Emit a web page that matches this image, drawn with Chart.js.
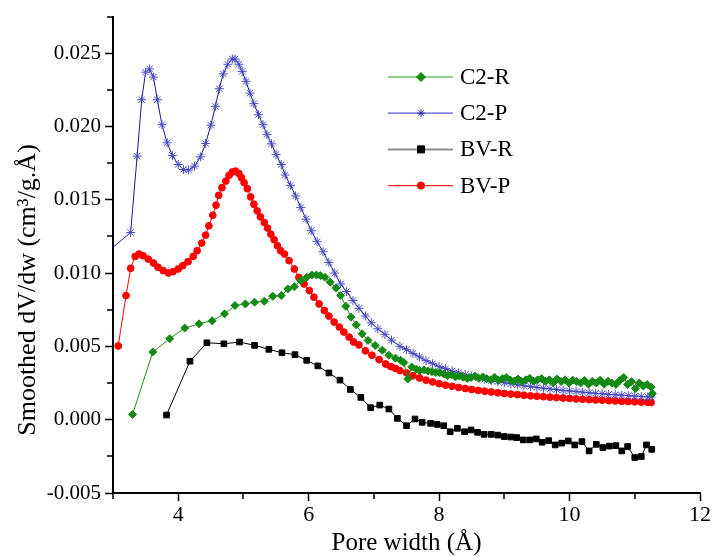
<!DOCTYPE html>
<html lang="en">
<head>
<meta charset="UTF-8">
<title>Smoothed dV/dw vs pore width</title>
<script src="https://cdn.jsdelivr.net/npm/chart.js"></script>
<style>
    body { margin: 0; background: #fff; }
    #psd { display: block; }
</style>
</head>
<body>
<canvas id="psd" width="712" height="556"></canvas>
<script>
    // pore width (Å) and dV/dw values
    const c2rX = [3.30, 3.61, 3.87, 4.10, 4.32, 4.52, 4.71, 4.87, 5.03, 5.17, 5.32, 5.45, 5.58, 5.68, 5.78, 5.88, 5.97, 6.05, 6.12, 6.18,
                  6.25, 6.33, 6.42, 6.49, 6.57, 6.65, 6.73, 6.82, 6.91, 7.02, 7.13, 7.23, 7.33, 7.41, 7.46, 7.52, 7.58, 7.65, 7.70, 7.77,
                  7.83, 7.89, 7.95, 8.01, 8.07, 8.13, 8.19, 8.25, 8.31, 8.37, 8.43, 8.49, 8.55, 8.61, 8.67, 8.73, 8.79, 8.85, 8.91, 8.97,
                  9.03, 9.09, 9.15, 9.21, 9.27, 9.33, 9.39, 9.45, 9.51, 9.57, 9.63, 9.69, 9.75, 9.81, 9.87, 9.93, 9.99, 10.05, 10.11, 10.17,
                  10.23, 10.29, 10.35, 10.41, 10.47, 10.53, 10.59, 10.65, 10.71, 10.77, 10.83, 10.89, 10.95, 11.01, 11.07, 11.13, 11.19, 11.25, 11.27];
    const c2rY = [0.00036, 0.00462, 0.00553, 0.00625, 0.00654, 0.00675, 0.00722, 0.00779, 0.00790, 0.00802, 0.00808, 0.00842, 0.00847, 0.00892, 0.00908, 0.00949, 0.00971, 0.00987, 0.00987, 0.00983,
                  0.00971, 0.00938, 0.00899, 0.00847, 0.00774, 0.00700, 0.00647, 0.00586, 0.00541, 0.00507, 0.00474, 0.00440, 0.00420, 0.00405, 0.00390, 0.00278, 0.00360, 0.00345, 0.00335, 0.00340,
                  0.00332, 0.00328, 0.00322, 0.00321, 0.00312, 0.00300, 0.00308, 0.00292, 0.00298, 0.00290, 0.00281, 0.00288, 0.00298, 0.00282, 0.00292, 0.00280, 0.00272, 0.00290, 0.00270, 0.00280,
                  0.00288, 0.00272, 0.00262, 0.00278, 0.00260, 0.00272, 0.00282, 0.00262, 0.00272, 0.00280, 0.00262, 0.00272, 0.00252, 0.00278, 0.00260, 0.00272, 0.00250, 0.00270, 0.00260, 0.00250,
                  0.00268, 0.00242, 0.00262, 0.00250, 0.00270, 0.00242, 0.00262, 0.00250, 0.00240, 0.00268, 0.00288, 0.00240, 0.00260, 0.00213, 0.00250, 0.00230, 0.00240, 0.00222, 0.00178];

    const c2pX = [2.93, 3.27, 3.37, 3.44, 3.50, 3.56, 3.62, 3.68, 3.75, 3.83, 3.91, 4.00, 4.08, 4.16, 4.25, 4.34, 4.42, 4.50, 4.57, 4.63,
                  4.69, 4.76, 4.83, 4.87, 4.93, 4.98, 5.04, 5.10, 5.16, 5.23, 5.30, 5.36, 5.43, 5.50, 5.58, 5.64, 5.72, 5.80, 5.88, 5.96,
                  6.04, 6.13, 6.22, 6.31, 6.40, 6.49, 6.58, 6.68, 6.77, 6.87, 6.96, 7.06, 7.17, 7.27, 7.40, 7.50, 7.60, 7.70, 7.80, 7.90,
                  8.00, 8.10, 8.20, 8.30, 8.40, 8.50, 8.60, 8.70, 8.80, 8.90, 9.00, 9.10, 9.20, 9.30, 9.40, 9.50, 9.60, 9.70, 9.80, 9.90,
                  10.00, 10.10, 10.20, 10.30, 10.40, 10.50, 10.60, 10.70, 10.80, 10.90, 11.00, 11.10, 11.20, 11.25];
    const c2pY = [0.01150, 0.01277, 0.01798, 0.02183, 0.02371, 0.02393, 0.02337, 0.02183, 0.02013, 0.01889, 0.01802, 0.01741, 0.01707, 0.01703, 0.01730, 0.01793, 0.01884, 0.02009, 0.02138, 0.02258,
                  0.02359, 0.02425, 0.02461, 0.02460, 0.02425, 0.02376, 0.02308, 0.02228, 0.02156, 0.02081, 0.02013, 0.01945, 0.01882, 0.01809, 0.01741, 0.01669, 0.01599, 0.01527, 0.01447, 0.01368,
                  0.01289, 0.01214, 0.01146, 0.01073, 0.01000, 0.00926, 0.00874, 0.00813, 0.00760, 0.00707, 0.00661, 0.00620, 0.00582, 0.00543, 0.00500, 0.00478, 0.00452, 0.00428, 0.00403, 0.00382,
                  0.00362, 0.00348, 0.00332, 0.00320, 0.00308, 0.00298, 0.00286, 0.00276, 0.00267, 0.00260, 0.00252, 0.00245, 0.00238, 0.00232, 0.00226, 0.00220, 0.00215, 0.00210, 0.00205, 0.00200,
                  0.00196, 0.00192, 0.00188, 0.00184, 0.00180, 0.00177, 0.00173, 0.00170, 0.00167, 0.00164, 0.00161, 0.00158, 0.00156, 0.00155];

    const bvrX = [3.82, 4.18, 4.44, 4.70, 4.94, 5.17, 5.39, 5.59, 5.79, 5.97, 6.14, 6.31, 6.48, 6.64, 6.80, 6.95, 7.09, 7.23, 7.36, 7.50,
                  7.63, 7.74, 7.87, 7.97, 8.07, 8.17, 8.28, 8.39, 8.49, 8.59, 8.69, 8.80, 8.90, 9.00, 9.10, 9.19, 9.29, 9.39, 9.49, 9.58,
                  9.68, 9.78, 9.88, 9.98, 10.08, 10.19, 10.30, 10.41, 10.51, 10.61, 10.71, 10.80, 10.89, 11.00, 11.10, 11.18, 11.26];
    const bvrY = [0.00032, 0.00399, 0.00525, 0.00518, 0.00530, 0.00507, 0.00480, 0.00457, 0.00444, 0.00405, 0.00367, 0.00319, 0.00270, 0.00206, 0.00152, 0.00082, 0.00100, 0.00073, 0.00009, -0.00041,
                  0.00005, -0.00018, -0.00025, -0.00032, -0.00041, -0.00082, -0.00059, -0.00082, -0.00070, -0.00086, -0.00100, -0.00100, -0.00105, -0.00115, -0.00118, -0.00122, -0.00138, -0.00138, -0.00131, -0.00154,
                  -0.00143, -0.00172, -0.00160, -0.00145, -0.00172, -0.00149, -0.00213, -0.00168, -0.00190, -0.00180, -0.00177, -0.00213, -0.00183, -0.00258, -0.00251, -0.00172, -0.00202];

    const bvpX = [3.08, 3.20, 3.27, 3.34, 3.40, 3.46, 3.54, 3.62, 3.69, 3.77, 3.85, 3.92, 4.00, 4.07, 4.15, 4.23, 4.29, 4.36, 4.42, 4.47,
                  4.53, 4.58, 4.62, 4.67, 4.73, 4.78, 4.83, 4.88, 4.93, 4.97, 5.01, 5.06, 5.11, 5.16, 5.21, 5.26, 5.32, 5.37, 5.42, 5.47,
                  5.52, 5.57, 5.63, 5.70, 5.78, 5.85, 5.93, 6.01, 6.08, 6.16, 6.24, 6.31, 6.39, 6.47, 6.54, 6.62, 6.69, 6.77, 6.87, 6.97,
                  7.08, 7.18, 7.26, 7.33, 7.40, 7.50, 7.60, 7.70, 7.80, 7.90, 8.00, 8.10, 8.20, 8.30, 8.40, 8.50, 8.60, 8.70, 8.80, 8.90,
                  9.00, 9.10, 9.20, 9.30, 9.40, 9.50, 9.60, 9.70, 9.80, 9.90, 10.00, 10.10, 10.20, 10.30, 10.40, 10.50, 10.60, 10.70, 10.80, 10.90,
                  11.00, 11.10, 11.20, 11.25];
    const bvpY = [0.00503, 0.00847, 0.01033, 0.01114, 0.01130, 0.01119, 0.01096, 0.01069, 0.01040, 0.01017, 0.01001, 0.01010, 0.01028, 0.01051, 0.01078, 0.01114, 0.01153, 0.01205, 0.01259, 0.01323,
                  0.01395, 0.01463, 0.01531, 0.01583, 0.01628, 0.01667, 0.01690, 0.01696, 0.01680, 0.01651, 0.01617, 0.01576, 0.01520, 0.01470, 0.01425, 0.01384, 0.01345, 0.01307, 0.01266, 0.01228,
                  0.01187, 0.01153, 0.01130, 0.01085, 0.01028, 0.00971, 0.00926, 0.00881, 0.00836, 0.00790, 0.00745, 0.00707, 0.00666, 0.00632, 0.00598, 0.00564, 0.00530, 0.00510, 0.00470, 0.00440,
                  0.00410, 0.00380, 0.00362, 0.00350, 0.00335, 0.00320, 0.00300, 0.00285, 0.00270, 0.00258, 0.00246, 0.00236, 0.00228, 0.00220, 0.00213, 0.00206, 0.00200, 0.00194, 0.00189, 0.00184,
                  0.00179, 0.00175, 0.00171, 0.00167, 0.00163, 0.00160, 0.00157, 0.00154, 0.00151, 0.00148, 0.00145, 0.00142, 0.00140, 0.00137, 0.00135, 0.00133, 0.00130, 0.00128, 0.00126, 0.00124,
                  0.00122, 0.00120, 0.00118, 0.00117];

    const xMajor = [4, 6, 8, 10, 12];
    const xMinor = [3, 5, 7, 9, 11];
    const yMajor = [-0.005, 0, 0.005, 0.010, 0.015, 0.020, 0.025];
    const yMinor = [-0.0025, 0.0025, 0.0075, 0.0125, 0.0175, 0.0225, 0.0275];

    const serif = "'Liberation Serif', 'Times New Roman', serif";
    const yTitle = 'Smoothed dV/dw (cm³/g.Å)';

    function pts(xs, ys) {
        return xs.map((x, i) => ({ x: x, y: ys[i] }));
    }

    const legendRows = [
        { label: 'C2-R', line: '#2a9a2a', fill: '#138a13', style: 'rectRot', r: 4.5 },
        { label: 'C2-P', line: '#5656d6', fill: '#2a2aa8', style: 'star', r: 4 },
        { label: 'BV-R', line: '#8c8c8c', fill: '#000000', style: 'rect', r: 5 },
        { label: 'BV-P', line: '#ff2a2a', fill: '#ff0000', style: 'circle', r: 3.6 }
    ];

    // minor tick marks, the y title (sits lower than centre in the original) and the legend box
    const extras = {
        id: 'extras',
        afterDraw(chart) {
            const ctx = chart.ctx;
            const xs = chart.scales.x, ys = chart.scales.y;
            ctx.save();
            ctx.strokeStyle = '#000';
            ctx.lineWidth = 1.5;
            ctx.beginPath();
            xMinor.forEach(v => {
                const px = Math.round(xs.getPixelForValue(v));
                ctx.moveTo(px, xs.top);
                ctx.lineTo(px, xs.top + 6);
            });
            yMinor.forEach(v => {
                const py = Math.round(ys.getPixelForValue(v));
                ctx.moveTo(ys.right, py);
                ctx.lineTo(ys.right - 6, py);
            });
            ctx.stroke();

            ctx.save();
            ctx.translate(28, 290);
            ctx.rotate(-Math.PI / 2);
            ctx.fillStyle = '#000';
            ctx.font = '26px ' + serif;
            ctx.textAlign = 'center';
            ctx.textBaseline = 'middle';
            ctx.fillText(yTitle, 0, 0);
            ctx.restore();

            legendRows.forEach((row, i) => {
                const y = 77 + i * 36.2;
                ctx.strokeStyle = row.line;
                ctx.lineWidth = row.label === 'BV-R' ? 2 : 1.2;
                ctx.beginPath();
                ctx.moveTo(388, y);
                ctx.lineTo(453, y);
                ctx.stroke();
                ctx.fillStyle = row.fill;
                ctx.strokeStyle = row.fill;
                ctx.lineWidth = 1;
                Chart.helpers.drawPoint(ctx, { pointStyle: row.style, radius: row.r, rotation: 0, borderWidth: 1 }, 421, y);
                ctx.fillStyle = '#000';
                ctx.font = '23px ' + serif;
                ctx.textBaseline = 'middle';
                ctx.textAlign = 'left';
                ctx.fillText(row.label, 460, y + 1);
            });
            ctx.restore();
        }
    };

    new Chart(document.getElementById('psd'), {
        type: 'line',
        data: {
            datasets: [
                {
                    label: 'C2-R', data: pts(c2rX, c2rY),
                    borderColor: '#1e8f1e', borderWidth: 1,
                    pointStyle: 'rectRot', pointRadius: 4, pointBackgroundColor: '#138a13', pointBorderColor: '#138a13', pointBorderWidth: 1
                },
                {
                    label: 'C2-P', data: pts(c2pX, c2pY),
                    borderColor: '#1a1a96', borderWidth: 1,
                    pointStyle: 'star', pointRadius: 4.5, pointBorderColor: '#4a4ac8', pointBackgroundColor: '#4a4ac8', pointBorderWidth: 1
                },
                {
                    label: 'BV-R', data: pts(bvrX, bvrY),
                    borderColor: '#000', borderWidth: 1,
                    pointStyle: 'rect', pointRadius: 4, pointBackgroundColor: '#000', pointBorderColor: '#000', pointBorderWidth: 1
                },
                {
                    label: 'BV-P', data: pts(bvpX, bvpY),
                    borderColor: '#ff0000', borderWidth: 1,
                    pointStyle: 'circle', pointRadius: 3.4, pointBackgroundColor: '#ff0000', pointBorderColor: '#ff0000', pointBorderWidth: 1
                }
            ]
        },
        options: {
            responsive: false,
            animation: false,
            devicePixelRatio: 1,
            layout: { padding: { top: 12, left: 0, right: 0, bottom: 0 } },
            elements: { line: { tension: 0 } },
            plugins: {
                legend: { display: false },
                tooltip: { enabled: false }
            },
            scales: {
                x: {
                    type: 'linear',
                    min: 3, max: 12,
                    afterBuildTicks: s => { s.ticks = xMajor.map(v => ({ value: v })); },
                    afterFit: s => { s.height = 63; },
                    ticks: { color: '#000', font: { family: serif, size: 22 }, padding: 1, maxRotation: 0 },
                    grid: { drawOnChartArea: false, tickLength: 8, tickColor: '#000', tickWidth: 1.5 },
                    border: { color: '#000', width: 2 },
                    title: {
                        display: true, text: 'Pore width (Å)', color: '#000',
                        font: { family: serif, size: 25, lineHeight: 1 }, padding: { top: 0, bottom: 0 }
                    }
                },
                y: {
                    min: -0.005, max: 0.0275,
                    afterBuildTicks: s => { s.ticks = yMajor.map(v => ({ value: v })); },
                    afterFit: s => { s.width = 113; },
                    ticks: { color: '#000', font: { family: serif, size: 21 }, padding: 4, callback: v => v.toFixed(3) },
                    grid: { drawOnChartArea: false, tickLength: 8, tickColor: '#000', tickWidth: 1.5 },
                    border: { color: '#000', width: 2 }
                }
            }
        },
        plugins: [extras]
    });
</script>
</body>
</html>
